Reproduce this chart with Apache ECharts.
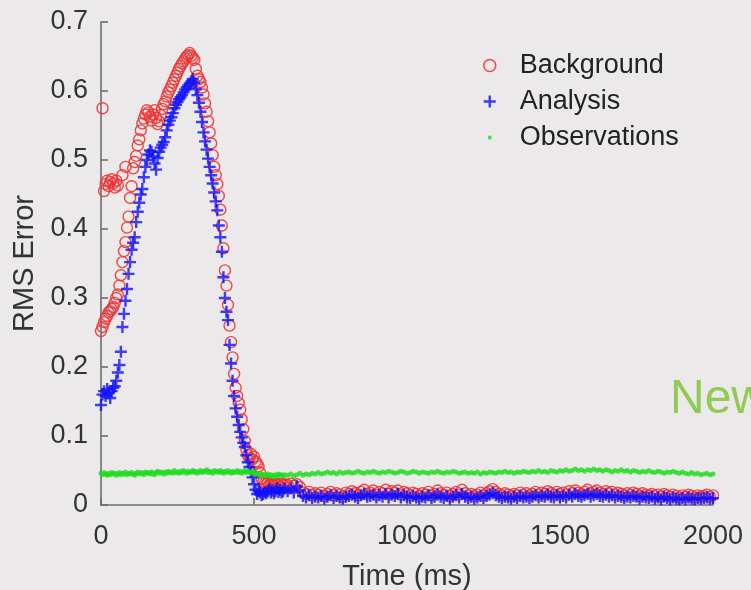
<!DOCTYPE html>
<html>
<head>
<meta charset="utf-8">
<script src="https://cdn.jsdelivr.net/npm/echarts@6/dist/echarts.min.js"></script>
<style>
  html, body { margin: 0; padding: 0; background: #ece9ea; }
  #chart { width: 751px; height: 590px; }
</style>
</head>
<body>
<div id="chart"></div>
<script>
// Sample times: 5 ms steps through the transient, 10 ms steps afterwards
const timeMs = [];
for (let t = 0; t <= 600; t += 5) timeMs.push(t);
for (let t = 610; t <= 2000; t += 10) timeMs.push(t);

// RMS error of the background (forecast) state
const backgroundRms = [
  0.252, 0.258, 0.265, 0.270, 0.274, 0.279, 0.281, 0.284, 0.287, 0.293,
  0.300, 0.305, 0.318, 0.333, 0.352, 0.368, 0.381, 0.402, 0.418, 0.445,
  0.462, 0.488, 0.497, 0.506, 0.521, 0.530, 0.543, 0.553, 0.560, 0.566,
  0.572, 0.569, 0.563, 0.557, 0.566, 0.572, 0.561, 0.552, 0.556, 0.565,
  0.574, 0.581, 0.585, 0.592, 0.598, 0.602, 0.607, 0.612, 0.617, 0.622,
  0.627, 0.632, 0.636, 0.640, 0.643, 0.647, 0.650, 0.652, 0.655, 0.651,
  0.648, 0.645, 0.632, 0.622, 0.617, 0.613, 0.605, 0.595, 0.582, 0.570,
  0.556, 0.540, 0.524, 0.507, 0.490, 0.478, 0.465, 0.448, 0.428, 0.405,
  0.372, 0.340, 0.318, 0.290, 0.260, 0.236, 0.214, 0.190, 0.170, 0.158,
  0.148, 0.138, 0.124, 0.110, 0.093, 0.080, 0.072, 0.068, 0.074, 0.066,
  0.070, 0.063, 0.060, 0.056, 0.047, 0.038, 0.033, 0.031, 0.030, 0.032,
  0.029, 0.031, 0.030, 0.028, 0.031, 0.029, 0.030, 0.027, 0.031, 0.029,
  0.030,
  0.029, 0.031, 0.028, 0.030, 0.026, 0.018, 0.016, 0.019, 0.014, 0.017,
  0.015, 0.018, 0.013, 0.016, 0.019, 0.014, 0.017, 0.015, 0.012, 0.018,
  0.016, 0.020, 0.017, 0.014, 0.019, 0.022, 0.016, 0.018, 0.021, 0.015,
  0.019, 0.017, 0.022, 0.016, 0.020, 0.018, 0.021, 0.015, 0.019, 0.017,
  0.014, 0.018, 0.016, 0.013, 0.017, 0.015, 0.019, 0.014, 0.016, 0.021,
  0.017, 0.015, 0.018, 0.013, 0.016, 0.019, 0.015, 0.022, 0.017, 0.014,
  0.016, 0.013, 0.015, 0.018, 0.014, 0.017, 0.020, 0.023, 0.019, 0.016,
  0.014, 0.017, 0.015, 0.013, 0.016, 0.014, 0.018, 0.015, 0.017, 0.014,
  0.016, 0.019, 0.015, 0.018, 0.016, 0.020, 0.017, 0.015, 0.019, 0.016,
  0.018, 0.015, 0.020, 0.017, 0.021, 0.018, 0.016, 0.019, 0.022, 0.017,
  0.019, 0.021, 0.018, 0.016, 0.020, 0.017, 0.019, 0.015, 0.018, 0.016,
  0.014, 0.017, 0.015, 0.018, 0.016, 0.013, 0.017, 0.015, 0.014, 0.016,
  0.013, 0.015, 0.012, 0.016, 0.014, 0.012, 0.015, 0.013, 0.011, 0.014,
  0.012, 0.015, 0.013, 0.011, 0.014, 0.012, 0.013, 0.015, 0.012, 0.014
];

// Second group of early background values (spin-up cycles)
const backgroundSpinUpTime = [5, 10, 15, 20, 25, 30, 35, 40, 45, 50, 55, 70, 80];
const backgroundSpinUpRms = [0.575, 0.455, 0.465, 0.470, 0.462, 0.468, 0.472, 0.466, 0.460, 0.470, 0.463, 0.478, 0.490];

// RMS error of the analysis state
const analysisRms = [
  0.145, 0.160, 0.165, 0.158, 0.168, 0.162, 0.155, 0.165, 0.170, 0.172,
  0.180, 0.192, 0.203, 0.222, 0.258, 0.277, 0.296, 0.313, 0.335, 0.352,
  0.370, 0.380, 0.388, 0.410, 0.425, 0.438, 0.450, 0.458, 0.475, 0.490,
  0.500, 0.508, 0.514, 0.512, 0.505, 0.495, 0.486, 0.503, 0.512, 0.518,
  0.522, 0.526, 0.533, 0.543, 0.551, 0.557, 0.562, 0.568, 0.575, 0.580,
  0.584, 0.588, 0.591, 0.594, 0.598, 0.602, 0.605, 0.608, 0.611, 0.614,
  0.617, 0.612, 0.603, 0.594, 0.583, 0.570, 0.555, 0.540, 0.527, 0.515,
  0.502, 0.490, 0.478, 0.466, 0.453, 0.440, 0.427, 0.405, 0.388, 0.367,
  0.330, 0.300, 0.280, 0.268, 0.232, 0.205, 0.180, 0.158, 0.140, 0.128,
  0.116, 0.106, 0.098, 0.090, 0.084, 0.072, 0.062, 0.055, 0.048, 0.040,
  0.030, 0.022, 0.016, 0.020, 0.018, 0.014, 0.016, 0.019, 0.017, 0.020,
  0.023, 0.018, 0.021, 0.017, 0.020, 0.024, 0.019, 0.022, 0.018, 0.020,
  0.024,
  0.020, 0.024, 0.018, 0.027, 0.021, 0.013, 0.011, 0.014, 0.010, 0.012,
  0.011, 0.013, 0.009, 0.012, 0.014, 0.010, 0.013, 0.011, 0.009, 0.012,
  0.013, 0.015, 0.012, 0.010, 0.014, 0.016, 0.012, 0.013, 0.015, 0.011,
  0.014, 0.012, 0.016, 0.011, 0.015, 0.013, 0.016, 0.011, 0.014, 0.012,
  0.010, 0.013, 0.011, 0.009, 0.012, 0.011, 0.014, 0.010, 0.012, 0.015,
  0.012, 0.010, 0.013, 0.009, 0.012, 0.014, 0.011, 0.016, 0.012, 0.010,
  0.012, 0.009, 0.011, 0.013, 0.010, 0.013, 0.015, 0.017, 0.014, 0.012,
  0.010, 0.012, 0.011, 0.009, 0.012, 0.010, 0.013, 0.011, 0.012, 0.010,
  0.012, 0.014, 0.011, 0.013, 0.012, 0.015, 0.012, 0.011, 0.014, 0.012,
  0.013, 0.011, 0.015, 0.012, 0.016, 0.013, 0.012, 0.014, 0.016, 0.012,
  0.014, 0.016, 0.013, 0.012, 0.015, 0.012, 0.014, 0.011, 0.013, 0.012,
  0.010, 0.012, 0.011, 0.013, 0.012, 0.009, 0.012, 0.011, 0.010, 0.012,
  0.009, 0.011, 0.008, 0.012, 0.010, 0.008, 0.011, 0.009, 0.008, 0.010,
  0.008, 0.011, 0.009, 0.008, 0.010, 0.009, 0.010, 0.011, 0.009, 0.010
];

// RMS error of the observations
const observationRms = [
  0.046, 0.044, 0.047, 0.045, 0.043, 0.046, 0.044, 0.047, 0.045, 0.046,
  0.043, 0.045, 0.047, 0.044, 0.046, 0.045, 0.048, 0.044, 0.046, 0.045,
  0.047, 0.045, 0.043, 0.046, 0.048, 0.045, 0.047, 0.046, 0.044, 0.048,
  0.046, 0.047, 0.045, 0.048, 0.046, 0.044, 0.047, 0.049, 0.046, 0.048,
  0.047, 0.045, 0.048, 0.046, 0.049, 0.047, 0.048, 0.046, 0.050, 0.047,
  0.048, 0.046, 0.049, 0.047, 0.050, 0.048, 0.046, 0.049, 0.047, 0.048,
  0.050, 0.047, 0.049, 0.046, 0.048, 0.050, 0.047, 0.049, 0.048, 0.051,
  0.047, 0.049, 0.048, 0.046, 0.050, 0.048, 0.049, 0.047, 0.050, 0.048,
  0.046, 0.049, 0.047, 0.050, 0.048, 0.046, 0.049, 0.047, 0.048, 0.050,
  0.047, 0.049, 0.046, 0.048, 0.050, 0.047, 0.049, 0.048, 0.046, 0.049,
  0.047, 0.045, 0.046, 0.044, 0.043, 0.045, 0.042, 0.044, 0.043, 0.045,
  0.042, 0.044, 0.043, 0.041, 0.044, 0.042, 0.045, 0.043, 0.044, 0.042,
  0.044,
  0.043, 0.045, 0.042, 0.044, 0.046, 0.043, 0.045, 0.044, 0.046, 0.045,
  0.047, 0.045, 0.046, 0.048, 0.046, 0.047, 0.045, 0.048, 0.046, 0.047,
  0.048, 0.046, 0.047, 0.049, 0.047, 0.046, 0.048, 0.047, 0.049, 0.047,
  0.046, 0.048, 0.047, 0.049, 0.048, 0.046, 0.047, 0.049, 0.048, 0.046,
  0.047, 0.049, 0.048, 0.046, 0.048, 0.047, 0.046, 0.048, 0.047, 0.049,
  0.047, 0.046, 0.048, 0.047, 0.049, 0.048, 0.046, 0.047, 0.048, 0.046,
  0.047, 0.046, 0.048, 0.045, 0.047, 0.046, 0.048, 0.047, 0.046, 0.048,
  0.047, 0.049, 0.047, 0.048, 0.046, 0.048, 0.047, 0.049, 0.048, 0.047,
  0.049, 0.048, 0.050, 0.048, 0.049, 0.047, 0.050, 0.049, 0.048, 0.050,
  0.049, 0.051, 0.049, 0.050, 0.052, 0.050, 0.051, 0.049, 0.051, 0.050,
  0.052, 0.050, 0.051, 0.049, 0.051, 0.050, 0.048, 0.050, 0.049, 0.051,
  0.049, 0.050, 0.048, 0.050, 0.049, 0.047, 0.049, 0.048, 0.050, 0.048,
  0.047, 0.049, 0.048, 0.046, 0.048, 0.047, 0.049, 0.047, 0.046, 0.048,
  0.046, 0.045, 0.047, 0.045, 0.046, 0.044, 0.045, 0.046, 0.044, 0.045
];

const xTicks = [0, 500, 1000, 1500, 2000];
const yTicks = [0, 0.1, 0.2, 0.3, 0.4, 0.5, 0.6, 0.7];

const FONT = "'Liberation Sans', Arial, Helvetica, sans-serif";
const RED = '#f03434';
const BLUE = '#1010ff';
const GREEN = '#1fdc1f';

// Plus marker as a filled cross
const plusSymbol = 'path://M4.0,0H6.0V4.0H10V6.0H6.0V10H4.0V6.0H0V4.0H4.0Z';
// Small dot padded inside a larger box (for the legend icon)
const dotIcon = 'path://M0,0L0,0M12,12L12,12M4.2,4.2H7.8V7.8H4.2Z';

const pairs = (ts, vs) => ts.map((t, i) => [t, vs[i]]);

const backgroundData = pairs(timeMs, backgroundRms)
  .concat(pairs(backgroundSpinUpTime, backgroundSpinUpRms));

const chart = echarts.init(document.getElementById('chart'), null, { renderer: 'canvas' });

const axisLineStyle = { color: '#6e6e6e', width: 1.6 };

chart.setOption({
  backgroundColor: '#ece9ea',
  animation: false,
  textStyle: { fontFamily: FONT },
  grid: { left: 101, right: 38, top: 22, bottom: 85, containLabel: false, outerBoundsMode: 'none' },
  xAxis: {
    type: 'value',
    min: xTicks[0],
    max: xTicks[xTicks.length - 1],
    interval: xTicks[1] - xTicks[0],
    name: 'Time (ms)',
    nameLocation: 'middle',
    nameGap: 57,
    nameTextStyle: { fontSize: 29, color: '#333', fontFamily: FONT },
    axisLine: { show: true, lineStyle: axisLineStyle },
    axisTick: { show: true, inside: true, length: 7, lineStyle: axisLineStyle },
    axisLabel: { fontSize: 27, color: '#333', margin: 18, fontFamily: FONT, formatter: v => String(v) },
    splitLine: { show: false }
  },
  yAxis: {
    type: 'value',
    min: yTicks[0],
    max: yTicks[yTicks.length - 1],
    interval: 0.1,
    name: 'RMS Error',
    nameLocation: 'middle',
    nameGap: 57,
    nameTextStyle: { fontSize: 29, color: '#333', fontFamily: FONT },
    axisLine: { show: true, lineStyle: axisLineStyle },
    axisTick: { show: true, inside: true, length: 7, lineStyle: axisLineStyle },
    axisLabel: {
      fontSize: 27, color: '#333', margin: 13, fontFamily: FONT,
      formatter: v => (Math.abs(v) < 1e-9 ? '0' : v.toFixed(1))
    },
    splitLine: { show: false }
  },
  legend: {
    orient: 'vertical',
    left: 478,
    top: 47,
    itemWidth: 12,
    itemHeight: 12,
    itemGap: 9,
    selectedMode: false,
    textStyle: { fontSize: 27, color: '#222', fontFamily: FONT, lineHeight: 27, padding: [0, 0, 0, 19] },
    data: [
      { name: 'Background', icon: 'circle', itemStyle: { color: 'transparent', borderColor: RED, borderWidth: 1.5 } },
      { name: 'Analysis', icon: plusSymbol, itemStyle: { color: BLUE, borderWidth: 0 } },
      { name: 'Observations', icon: dotIcon, itemStyle: { color: GREEN, borderWidth: 0 } }
    ]
  },
  series: [
    {
      name: 'Background',
      type: 'scatter',
      symbol: 'circle',
      symbolSize: 11,
      itemStyle: { color: 'transparent', borderColor: RED, borderWidth: 1.4, opacity: 0.9 },
      data: backgroundData
    },
    {
      name: 'Analysis',
      type: 'scatter',
      symbol: plusSymbol,
      symbolSize: 12,
      itemStyle: { color: BLUE },
      data: pairs(timeMs, analysisRms)
    },
    {
      name: 'Observations',
      type: 'scatter',
      symbol: 'circle',
      symbolSize: 5,
      itemStyle: { color: GREEN },
      data: pairs(timeMs, observationRms)
    }
  ],
  graphic: [
    {
      type: 'text',
      left: 670,
      top: 376,
      style: { text: 'New', fontSize: 48, fill: '#93c957', fontFamily: FONT }
    }
  ]
});
</script>
</body>
</html>
